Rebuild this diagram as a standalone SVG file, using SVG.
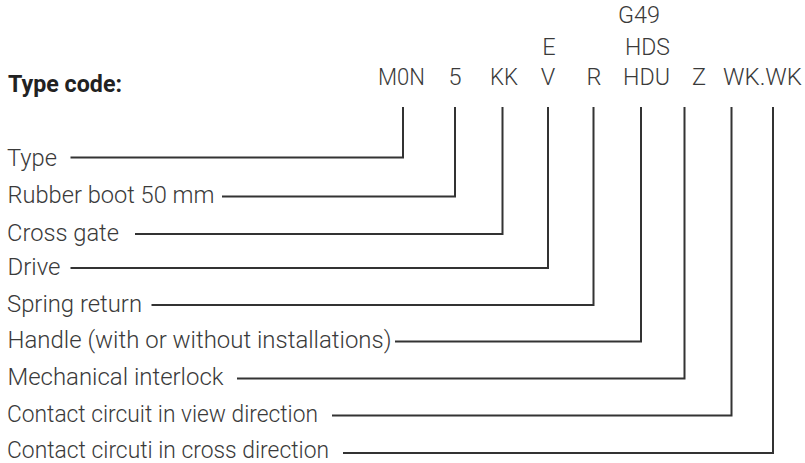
<svg xmlns="http://www.w3.org/2000/svg" width="805" height="463" viewBox="0 0 805 463">
  <style>
    .lbl { font-family: Roboto, "Liberation Sans", sans-serif; font-weight: 300; font-size: 23.5px; fill: #3a3a3a; }
    .code { font-family: Roboto, "Liberation Sans", sans-serif; font-weight: 300; font-size: 23.5px; fill: #3a3a3a; text-anchor: middle; }
    .title { font-family: Roboto, "Liberation Sans", sans-serif; font-weight: 700; font-size: 23.5px; fill: #222222; }
    .conn { fill: none; stroke: #333333; stroke-width: 2; }
  </style>
  <rect width="805" height="463" fill="#ffffff"/>
  <text class="title" x="8" y="92" textLength="114" lengthAdjust="spacingAndGlyphs">Type code:</text>

  <g id="codes">
    <text class="code" x="401.5" y="85" textLength="47" lengthAdjust="spacingAndGlyphs">M0N</text>
    <text class="code" x="455" y="85">5</text>
    <text class="code" x="504" y="85" textLength="28" lengthAdjust="spacingAndGlyphs">KK</text>
    <text class="code" x="548" y="85">V</text>
    <text class="code" x="549" y="55">E</text>
    <text class="code" x="594" y="85">R</text>
    <text class="code" x="646.5" y="85" textLength="47" lengthAdjust="spacingAndGlyphs">HDU</text>
    <text class="code" x="647.5" y="55" textLength="45" lengthAdjust="spacingAndGlyphs">HDS</text>
    <text class="code" x="639" y="23" textLength="42" lengthAdjust="spacingAndGlyphs">G49</text>
    <text class="code" x="699" y="85">Z</text>
    <text class="code" x="762.5" y="85" textLength="79" lengthAdjust="spacingAndGlyphs">WK.WK</text>
  </g>

  <g id="n-type"><text class="lbl" x="7" y="166" textLength="50" lengthAdjust="spacingAndGlyphs">Type</text></g>
  <g id="n-boot"><text class="lbl" x="7.5" y="203" textLength="207" lengthAdjust="spacingAndGlyphs">Rubber boot 50 mm</text></g>
  <g id="n-gate"><text class="lbl" x="7" y="241" textLength="112" lengthAdjust="spacingAndGlyphs">Cross gate</text></g>
  <g id="n-drive"><text class="lbl" x="7.5" y="275" textLength="53" lengthAdjust="spacingAndGlyphs">Drive</text></g>
  <g id="n-spring"><text class="lbl" x="7" y="312" textLength="135" lengthAdjust="spacingAndGlyphs">Spring return</text></g>
  <g id="n-handle"><text class="lbl" x="7.5" y="348" textLength="384" lengthAdjust="spacingAndGlyphs">Handle (with or without installations)</text></g>
  <g id="n-interlock"><text class="lbl" x="7.5" y="385" textLength="216" lengthAdjust="spacingAndGlyphs">Mechanical interlock</text></g>
  <g id="n-view"><text class="lbl" x="7" y="422" textLength="311" lengthAdjust="spacingAndGlyphs">Contact circuit in view direction</text></g>
  <g id="n-cross"><text class="lbl" x="7" y="458" textLength="322" lengthAdjust="spacingAndGlyphs">Contact circuti in cross direction</text></g>

  <g id="connectors">
    <polyline class="conn" points="70.5,157.5 403,157.5 403,107"/>
    <polyline class="conn" points="222,196.5 455,196.5 455,107"/>
    <polyline class="conn" points="135,234 502.5,234 502.5,107"/>
    <polyline class="conn" points="70.5,268 548,268 548,107"/>
    <polyline class="conn" points="151.5,305 593.5,305 593.5,107"/>
    <polyline class="conn" points="395,341.5 641,341.5 641,107"/>
    <polyline class="conn" points="237,378.5 684.5,378.5 684.5,107"/>
    <polyline class="conn" points="332,415.5 731.5,415.5 731.5,107"/>
    <polyline class="conn" points="343,453 773,453 773,107"/>
  </g>
</svg>
